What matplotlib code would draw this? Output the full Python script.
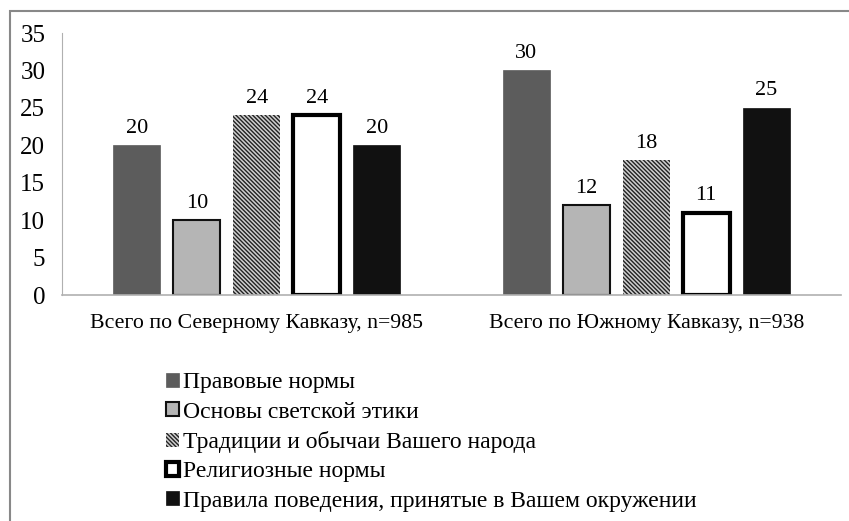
import numpy as np
import matplotlib.pyplot as plt
from matplotlib.patches import Rectangle

plt.rcParams['font.family'] = ['Liberation Serif', 'DejaVu Serif']
plt.rcParams['hatch.linewidth'] = 1.0
plt.rcParams['hatch.color'] = '#222222'

# data
categories = ['Всего по Северному Кавказу, n=985', 'Всего по Южному Кавказу, n=938']
series_names = ['Правовые нормы',
                'Основы светской этики',
                'Традиции и обычаи Вашего народа',
                'Религиозные нормы',
                'Правила поведения, принятые в Вашем окружении']
pravo = [20, 30]
svet = [10, 12]
tradicii = [24, 18]
religia = [24, 11]
pravila = [20, 25]
values = [pravo, svet, tradicii, religia, pravila]

# styles
faces = ['#5c5c5c', '#b5b5b5', '#cfcfcf', 'white', '#111111']
edges = ['#5c5c5c', '#111111', '#222222', '#000000', '#111111']
lws = [0.5, 1.5, 0, 3.0, 0.5]
hatches = [None, None, '\\\\\\\\\\\\\\\\', None, None]

fig = plt.figure(figsize=(8.49, 5.21), dpi=100)
ax = fig.add_axes([62/849, 1-295/521, (841-62)/849, (295-33)/521])

x = np.arange(len(categories))
w = 0.12
step = 0.154
handles = []
for i, vals in enumerate(values):
    off = (i - 2) * step
    bars = ax.bar(x + off, vals, w, color=faces[i], edgecolor=edges[i],
                  linewidth=lws[i], hatch=hatches[i], label=series_names[i])
    handles.append(bars)
    for xi, v in zip(x + off, vals):
        ax.text(xi, v + 1.0, str(v), ha='center', va='bottom', fontsize=16)

ax.set_xlim(-0.5, 1.5)
ax.set_ylim(0, 35)
ax.set_yticks(range(0, 36, 5))
ax.set_xticks(x)
ax.set_xticklabels(categories, fontsize=15.7)
ax.tick_params(axis='y', labelsize=18, length=0, pad=12)
ax.tick_params(axis='x', length=0, pad=14)
for s in ['top', 'right']:
    ax.spines[s].set_visible(False)
ax.spines['left'].set_color('#b0b0b0')
ax.spines['bottom'].set_color('#b0b0b0')
ax.spines['bottom'].set_linewidth(1.2)

leg = fig.legend(handles=handles, loc='upper left', bbox_to_anchor=(157/849, 1-363/521),
                 frameon=False, fontsize=17, handlelength=0.55, handleheight=0.55,
                 handletextpad=0.15, labelspacing=0.35, borderaxespad=0)

# outer frame
fig.patches.append(Rectangle((10/849, -0.1), 1.0, 1 - 11/521 + 0.1, transform=fig.transFigure,
                             fill=False, edgecolor='#888888', linewidth=1.5))

fig.savefig('out.png', dpi=100)
